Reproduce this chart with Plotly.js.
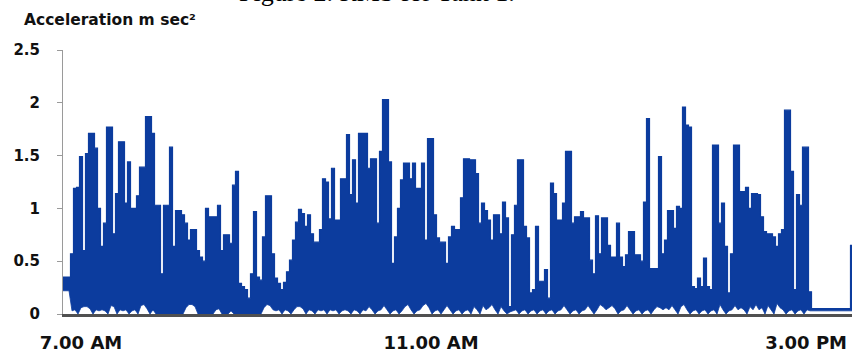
<!DOCTYPE html>
<html>
<head>
<meta charset="utf-8">
<script src="https://cdn.plot.ly/plotly-3.0.1.min.js"></script>
<style>
  html, body { margin: 0; padding: 0; background: #ffffff; }
  #chart { width: 854px; height: 354px; }
</style>
</head>
<body>
<div id="chart"></div>
<script>
// RMS acceleration (m/s²) for Tank 1, one reading pair per sample:
// the burst peak and the quiet floor beneath it.
const peakRms = [
  0.35, 0.35, 0.35, 0.57, 1.19, 1.20, 1.49, 0.60, 1.52, 1.71,
  1.71, 1.57, 1.00, 0.64, 0.86, 1.77, 1.77, 0.76, 1.14, 1.63,
  1.63, 1.05, 1.44, 1.00, 1.00, 1.12, 1.39, 1.39, 1.87, 1.87,
  1.71, 1.03, 1.03, 0.38, 1.03, 1.03, 1.58, 0.64, 0.98, 0.98,
  0.94, 0.86, 0.70, 0.80, 0.80, 0.60, 0.54, 0.50, 1.00, 0.92,
  0.92, 0.92, 1.03, 0.60, 0.75, 0.75, 0.67, 1.22, 1.35, 0.29,
  0.26, 0.23, 0.15, 0.38, 0.97, 0.35, 0.32, 0.73, 1.12, 1.12,
  0.57, 0.34, 0.29, 0.23, 0.30, 0.40, 0.51, 0.70, 0.87, 0.99,
  0.95, 0.83, 0.94, 0.76, 0.68, 0.68, 0.80, 1.28, 1.25, 0.90,
  1.38, 0.89, 0.89, 1.28, 1.28, 1.70, 1.13, 1.46, 1.05, 1.71,
  1.71, 1.71, 1.38, 1.47, 1.47, 0.86, 1.54, 2.03, 2.03, 1.44,
  0.48, 0.73, 1.00, 1.27, 1.43, 1.43, 1.28, 1.43, 1.19, 1.19,
  1.43, 0.70, 1.66, 1.66, 0.94, 0.72, 0.68, 0.68, 0.48, 0.73,
  0.83, 0.80, 0.80, 1.10, 1.47, 1.47, 1.46, 1.46, 1.33, 0.86,
  1.05, 0.98, 0.89, 0.70, 0.94, 0.94, 0.76, 1.06, 0.91, 0.07,
  0.75, 1.03, 1.46, 1.46, 0.83, 0.72, 0.20, 0.23, 0.83, 0.31,
  0.31, 0.42, 0.15, 1.24, 1.14, 0.89, 0.89, 1.05, 1.54, 1.54,
  0.86, 0.92, 0.92, 0.97, 0.91, 0.91, 0.51, 0.38, 0.93, 0.57,
  0.91, 0.91, 0.65, 0.54, 0.54, 0.86, 0.54, 0.45, 0.56, 0.78,
  0.78, 0.56, 0.56, 0.50, 1.06, 1.85, 0.43, 0.43, 0.43, 1.49,
  0.57, 0.70, 0.98, 0.98, 0.81, 1.02, 1.00, 1.96, 1.79, 1.77,
  0.26, 0.24, 0.34, 0.26, 0.53, 0.26, 0.23, 1.60, 1.60, 0.86,
  1.05, 0.64, 0.20, 0.57, 1.60, 1.60, 1.16, 1.16, 1.20, 1.00,
  1.14, 1.14, 1.13, 0.92, 0.78, 0.76, 0.76, 0.73, 0.64, 0.76,
  0.80, 1.93, 1.93, 1.35, 0.23, 1.13, 1.03, 1.58, 1.58, 0.21,
  0.05, 0.05, 0.05, 0.05, 0.05, 0.05, 0.05, 0.05, 0.05, 0.05,
  0.05, 0.05, 0.05, 0.65
];

const floorRms = [
  0.22, 0.22, 0.22, 0.03, 0.04, 0.00, 0.06, 0.07, 0.07, 0.05,
  0.00, 0.04, 0.03, 0.04, 0.03, 0.00, 0.08, 0.07, 0.00, 0.04,
  0.03, 0.04, 0.00, 0.03, 0.04, 0.00, 0.08, 0.09, 0.05, 0.00,
  0.04, 0.00, 0.00, 0.00, 0.00, 0.00, 0.00, 0.00, 0.00, 0.00,
  0.00, 0.06, 0.09, 0.09, 0.07, 0.00, 0.00, 0.00, 0.00, 0.00,
  0.00, 0.04, 0.05, 0.00, 0.00, 0.00, 0.03, 0.00, 0.00, 0.00,
  0.00, 0.00, 0.00, 0.00, 0.00, 0.00, 0.00, 0.06, 0.09, 0.08,
  0.04, 0.03, 0.04, 0.00, 0.04, 0.03, 0.00, 0.04, 0.07, 0.07,
  0.05, 0.00, 0.04, 0.03, 0.00, 0.04, 0.03, 0.04, 0.00, 0.04,
  0.03, 0.04, 0.00, 0.03, 0.04, 0.03, 0.00, 0.04, 0.03, 0.00,
  0.04, 0.03, 0.07, 0.04, 0.00, 0.03, 0.04, 0.08, 0.04, 0.00,
  0.03, 0.04, 0.00, 0.03, 0.07, 0.09, 0.04, 0.00, 0.03, 0.04,
  0.08, 0.10, 0.06, 0.00, 0.03, 0.04, 0.00, 0.04, 0.08, 0.04,
  0.00, 0.03, 0.04, 0.00, 0.03, 0.04, 0.00, 0.07, 0.04, 0.00,
  0.08, 0.04, 0.06, 0.09, 0.04, 0.00, 0.07, 0.03, 0.00, 0.02,
  0.03, 0.04, 0.00, 0.03, 0.04, 0.00, 0.03, 0.04, 0.00, 0.03,
  0.04, 0.00, 0.03, 0.04, 0.00, 0.03, 0.04, 0.08, 0.04, 0.00,
  0.03, 0.04, 0.00, 0.03, 0.04, 0.08, 0.04, 0.00, 0.04, 0.09,
  0.07, 0.04, 0.06, 0.08, 0.05, 0.00, 0.03, 0.04, 0.08, 0.04,
  0.00, 0.03, 0.04, 0.00, 0.03, 0.04, 0.00, 0.04, 0.07, 0.06,
  0.04, 0.06, 0.04, 0.08, 0.04, 0.00, 0.07, 0.09, 0.04, 0.00,
  0.03, 0.04, 0.00, 0.03, 0.04, 0.00, 0.03, 0.04, 0.00, 0.09,
  0.04, 0.00, 0.03, 0.04, 0.08, 0.04, 0.06, 0.04, 0.00, 0.07,
  0.04, 0.09, 0.04, 0.06, 0.00, 0.08, 0.04, 0.00, 0.10, 0.06,
  0.04, 0.00, 0.03, 0.04, 0.00, 0.03, 0.04, 0.00, 0.04, 0.03,
  0.03, 0.03, 0.03, 0.03, 0.03, 0.03, 0.03, 0.03, 0.03, 0.03,
  0.03, 0.03, 0.03, 0.03
];

// Time-of-day labels and the sample index each one sits under
const timeLabels = ['7.00 AM', '11.00 AM', '3.00 PM'];
const timeLabelAt = [6, 122.7, 247.7];

const yTickVals = [0, 0.5, 1, 1.5, 2, 2.5];
const yTickText = ['0', '0.5', '1', '1.5', '2', '2.5'];

const sampleIndex = peakRms.map(function (_, i) { return i; });
const blue = '#0c3c9e';

// Lower edge of the band: the quiet floor between bursts
const floorTrace = {
  x: sampleIndex,
  y: floorRms,
  type: 'scatter',
  mode: 'lines',
  line: { color: blue, width: 0.8, simplify: false },
  hoverinfo: 'skip'
};

// Upper edge: burst peaks held for one sample each, filled down to the floor
const peakTrace = {
  x: sampleIndex,
  y: peakRms,
  type: 'scatter',
  mode: 'lines',
  fill: 'tonexty',
  fillcolor: blue,
  line: { color: blue, width: 1.2, shape: 'hvh', simplify: false },
  hoverinfo: 'skip'
};

const layout = {
  width: 854,
  height: 354,
  margin: { l: 63, r: 2, t: 50, b: 40 },
  paper_bgcolor: '#ffffff',
  plot_bgcolor: '#ffffff',
  showlegend: false,
  font: { family: 'DejaVu Sans', color: '#111111' },
  xaxis: {
    range: [0, 263],
    showgrid: false,
    zeroline: false,
    showline: true,
    linecolor: '#505050',
    linewidth: 3,
    ticks: '',
    tickvals: timeLabelAt,
    ticktext: timeLabels,
    tickfont: { family: 'DejaVu Sans', size: 18, weight: 700, color: '#111111' },
    ticklabelstandoff: 10
  },
  yaxis: {
    range: [0, 2.5],
    showgrid: false,
    zeroline: false,
    showline: true,
    linecolor: '#9a9a9a',
    linewidth: 1,
    ticks: 'outside',
    ticklen: 5,
    tickcolor: '#9a9a9a',
    tickvals: yTickVals,
    ticktext: yTickText,
    tickfont: { family: 'DejaVu Sans', size: 15, weight: 700, color: '#111111' },
    ticklabelstandoff: 14
  },
  annotations: [
    {
      text: 'Figure 2. RMS for Tank 1.',
      xref: 'paper', yref: 'paper',
      x: 0.398, y: 1.159,
      xanchor: 'center', yanchor: 'bottom',
      showarrow: false, borderpad: 0,
      font: { family: 'Liberation Serif', size: 26, color: '#000000' }
    },
    {
      text: 'Acceleration m sec²',
      xref: 'paper', yref: 'paper',
      x: -0.0507, y: 1.077,
      xanchor: 'left', yanchor: 'bottom',
      showarrow: false, borderpad: 0,
      font: { family: 'DejaVu Sans', size: 15.5, weight: 700, color: '#111111' }
    }
  ]
};

Plotly.newPlot('chart', [floorTrace, peakTrace], layout, { staticPlot: true, displayModeBar: false });
</script>
</body>
</html>
